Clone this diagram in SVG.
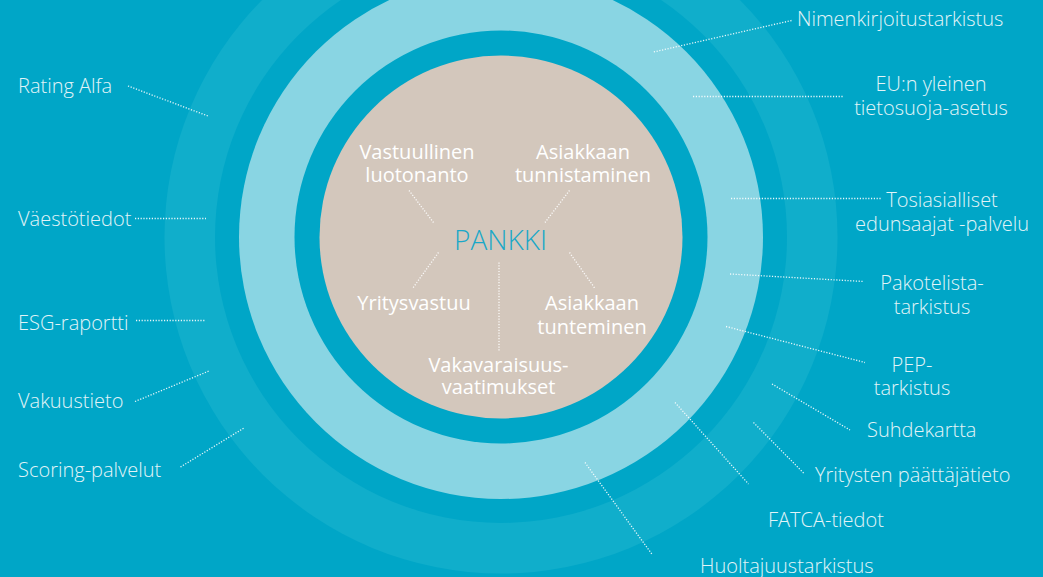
<svg xmlns="http://www.w3.org/2000/svg" width="1043" height="577" viewBox="0 0 1043 577">
<style>
.bg{fill:#00A6C7}
.outer{font-family:"Open Sans","Liberation Sans",sans-serif;font-weight:300;font-size:20px;fill:#E2F4F8}
.inner{font-family:"Open Sans","Liberation Sans",sans-serif;font-weight:400;font-size:20px;fill:#FFFFFF}
.mid{text-anchor:middle}
.core{font-family:"Open Sans","Liberation Sans",sans-serif;font-weight:300;font-size:28px;fill:#1AA8C8;text-anchor:middle}
.dot{stroke:#FFFFFF;stroke-width:1.3;stroke-dasharray:1.2 1.6;fill:none;opacity:0.9}
</style>
<rect class="bg" x="0" y="0" width="1043" height="577"/>
<g id="rings">
<circle cx="501" cy="237" r="336.5" fill="#10AECB"/>
<circle cx="501" cy="237" r="286" fill="#00A6C7"/>
<circle cx="501" cy="237" r="262" fill="#89D5E3"/>
<circle cx="501" cy="237" r="206.5" fill="#00A6C7"/>
<circle cx="501" cy="237" r="181.5" fill="#D3C7BC"/>
</g>
<g id="connectors">
<line class="dot" x1="128" y1="86" x2="208" y2="116"/>
<line class="dot" x1="135" y1="218.5" x2="206" y2="218.5"/>
<line class="dot" x1="136" y1="320.5" x2="206" y2="320.5"/>
<line class="dot" x1="135" y1="401.5" x2="209" y2="371"/>
<line class="dot" x1="180.5" y1="467" x2="244" y2="428"/>
<line class="dot" x1="791.5" y1="20.5" x2="653.5" y2="52"/>
<line class="dot" x1="693" y1="96.5" x2="843" y2="96.5"/>
<line class="dot" x1="731" y1="198.5" x2="881" y2="198.5"/>
<line class="dot" x1="730" y1="274" x2="864" y2="281.5"/>
<line class="dot" x1="726" y1="326.5" x2="865" y2="362.5"/>
<line class="dot" x1="772" y1="384" x2="850" y2="430"/>
<line class="dot" x1="753.5" y1="422.5" x2="804" y2="473.5"/>
<line class="dot" x1="675" y1="402.5" x2="748.5" y2="484"/>
<line class="dot" x1="585" y1="462.5" x2="652.5" y2="555"/>
<line class="dot" x1="409" y1="190.5" x2="433.5" y2="222.5"/>
<line class="dot" x1="569.5" y1="190.5" x2="545" y2="222.5"/>
<line class="dot" x1="438.5" y1="252.5" x2="412.5" y2="288.5"/>
<line class="dot" x1="499" y1="262.5" x2="499" y2="351.5"/>
<line class="dot" x1="569.5" y1="252.5" x2="595" y2="288.5"/>
</g>
<g id="pankki"><text class="core" x="500.5" y="249.5">PANKKI</text></g>
<g id="vastuullinen-luotonanto"><text class="inner mid" x="417" y="158.5">Vastuullinen<tspan x="417" dy="23">luotonanto</tspan></text></g>
<g id="asiakkaan-tunnistaminen"><text class="inner mid" x="583" y="158.5">Asiakkaan<tspan x="583" dy="23">tunnistaminen</tspan></text></g>
<g id="yritysvastuu"><text class="inner mid" x="414" y="310">Yritysvastuu</text></g>
<g id="asiakkaan-tunteminen"><text class="inner mid" x="592" y="310">Asiakkaan<tspan x="592" dy="23.5">tunteminen</tspan></text></g>
<g id="vakavaraisuusvaatimukset"><text class="inner mid" x="498.5" y="371.5">Vakavaraisuus-<tspan x="498.5" dy="22">vaatimukset</tspan></text></g>
<g id="rating-alfa"><text class="outer" x="18" y="93">Rating Alfa</text></g>
<g id="vaestotiedot"><text class="outer" x="18" y="225.5">Väestötiedot</text></g>
<g id="esg-raportti"><text class="outer" x="18" y="330">ESG-raportti</text></g>
<g id="vakuustieto"><text class="outer" x="18" y="408">Vakuustieto</text></g>
<g id="scoring-palvelut"><text class="outer" x="18" y="476.5">Scoring-palvelut</text></g>
<g id="nimenkirjoitustarkistus"><text class="outer" x="797" y="26">Nimenkirjoitustarkistus</text></g>
<g id="eu-tietosuoja"><text class="outer mid" x="931" y="91">EU:n yleinen<tspan x="931" dy="24">tietosuoja-asetus</tspan></text></g>
<g id="tosiasialliset-edunsaajat"><text class="outer mid" x="942" y="207">Tosiasialliset<tspan x="942" dy="24">edunsaajat -palvelu</tspan></text></g>
<g id="pakotelistatarkistus"><text class="outer mid" x="932" y="290">Pakotelista-<tspan x="932" dy="23.5">tarkistus</tspan></text></g>
<g id="pep-tarkistus"><text class="outer mid" x="912" y="371.5">PEP-<tspan x="912" dy="23.5">tarkistus</tspan></text></g>
<g id="suhdekartta"><text class="outer" x="867" y="437">Suhdekartta</text></g>
<g id="yritysten-paattajatieto"><text class="outer" x="815" y="481.5">Yritysten päättäjätieto</text></g>
<g id="fatca-tiedot"><text class="outer" x="768" y="527">FATCA-tiedot</text></g>
<g id="huoltajuustarkistus"><text class="outer" x="700" y="572.5">Huoltajuustarkistus</text></g>
</svg>
